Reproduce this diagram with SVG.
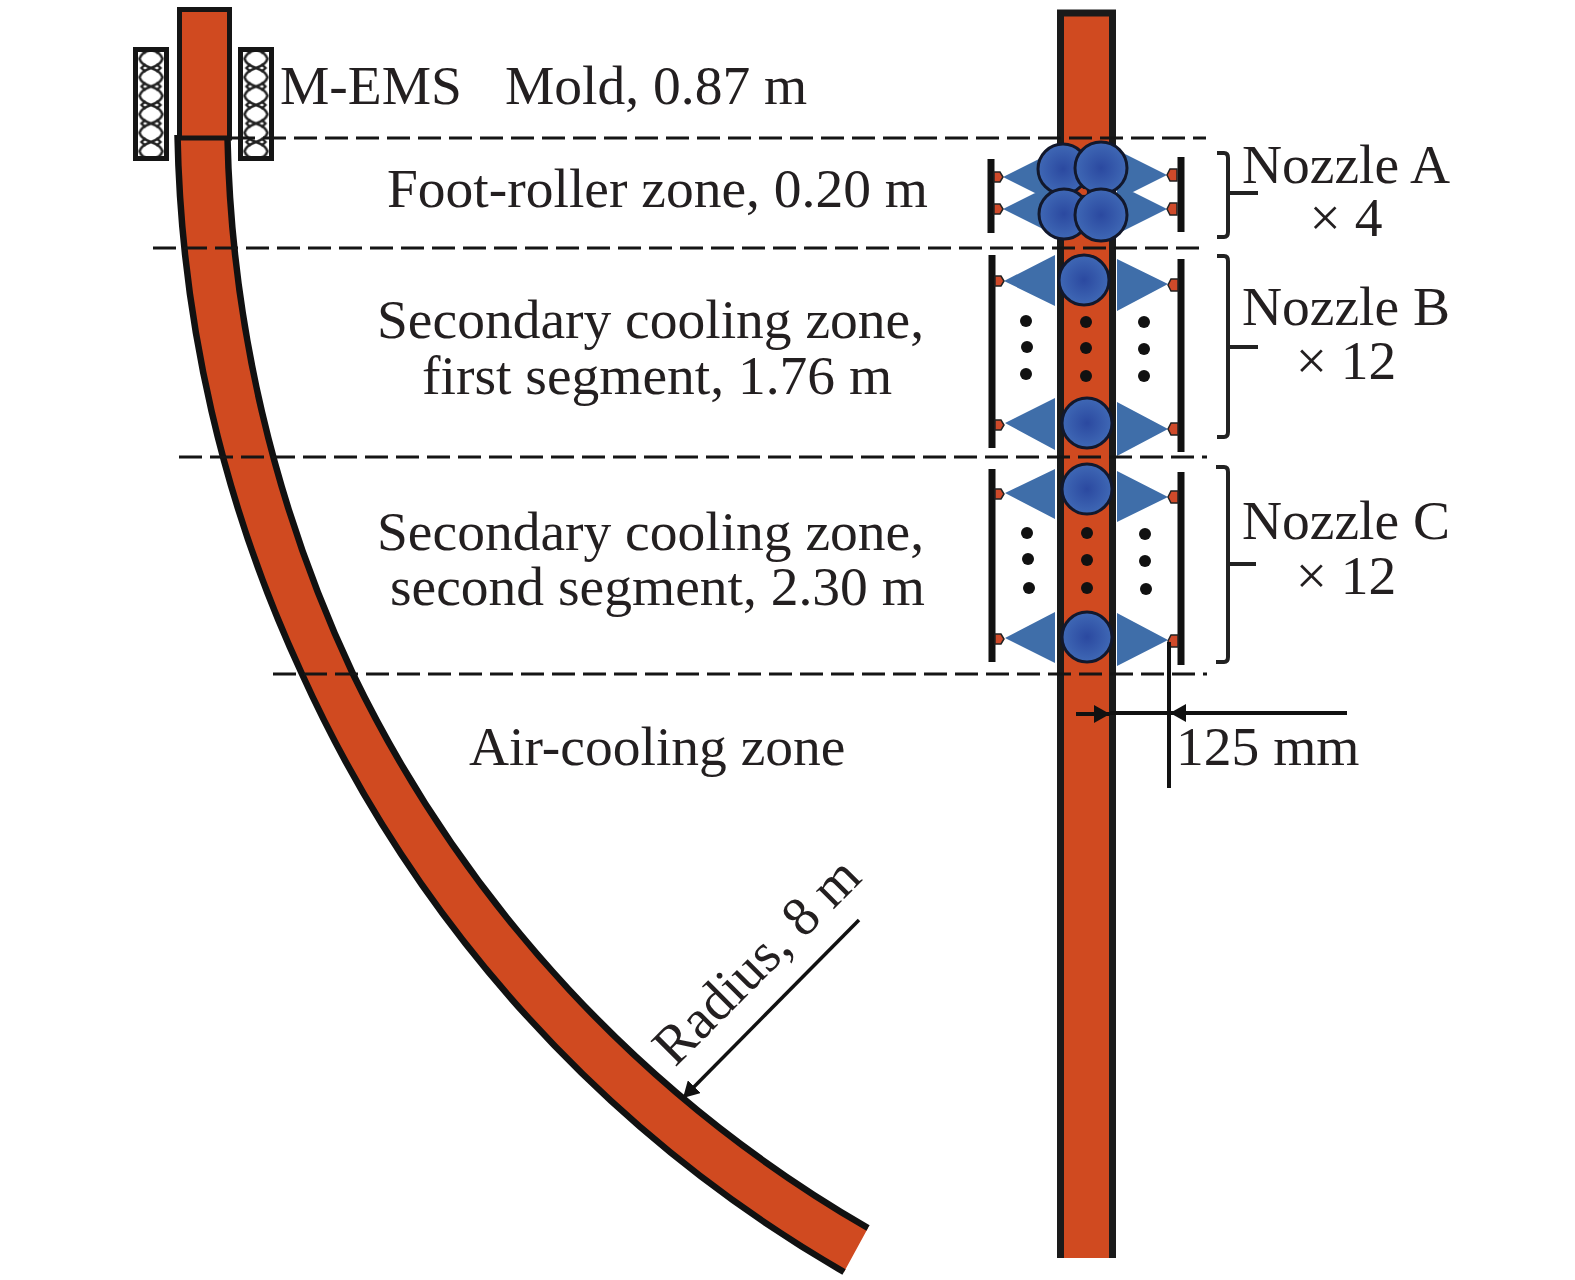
<svg xmlns="http://www.w3.org/2000/svg" width="1575" height="1280" viewBox="0 0 1575 1280">
<style>
text{font-family:"Liberation Serif","Times New Roman",serif;font-size:55.500px;fill:#231f20}
.m{text-anchor:middle}
.e{fill:none;stroke:#111;stroke-width:6.500}
.d{fill:none;stroke:#151515;stroke-width:3;stroke-dasharray:23 8}
.w{fill:none;stroke:#111;stroke-width:7}
.b{fill:none;stroke:#222;stroke-width:4}
.t{fill:#3f6ea9}
.r{fill:url(#rg);stroke:#12182c;stroke-width:3}
.n{fill:#cf4a2a;stroke:#222;stroke-width:1.500}
.k{fill:#111}
.a{fill:none;stroke:#111;stroke-width:4}
.l{fill:none;stroke:#222;stroke-width:2.400}
</style>
<defs>
<radialGradient id="rg"><stop offset="0" stop-color="#2b49a0"/><stop offset="1" stop-color="#3f68b5"/></radialGradient>
<pattern id="lat" width="31" height="18.500" patternUnits="userSpaceOnUse" x="135.500" y="49.500">
<path class="l" d="M15.500 0Q6 3 4 9.250Q6 15.500 15.500 18.500Q25 15.500 27 9.250Q25 3 15.500 0Z"/>
<path class="l" d="M4 -2L10 4M27 -2L21 4M4 20.500L10 14.500M27 20.500L21 14.500"/>
</pattern>
<pattern id="lat2" width="31" height="18.500" patternUnits="userSpaceOnUse" x="240.500" y="49.500">
<path class="l" d="M15.500 0Q6 3 4 9.250Q6 15.500 15.500 18.500Q25 15.500 27 9.250Q25 3 15.500 0Z"/>
<path class="l" d="M4 -2L10 4M27 -2L21 4M4 20.500L10 14.500M27 20.500L21 14.500"/>
</pattern>
<marker id="ah" markerWidth="18" markerHeight="18" refX="16" refY="9" orient="auto" markerUnits="userSpaceOnUse"><path d="M0 0L16 9L0 18Z" fill="#111"/></marker>
</defs>
<g id="curved-strand">
<path d="M177.500 138L227.500 138A1325 1325 0 0 0 353 674A1290 1290 0 0 0 868 1228L844 1272A1320 1320 0 0 1 302 674A1335 1335 0 0 1 177.500 138Z" fill="#d04a20"/>
<path class="e" d="M227.500 138A1325 1325 0 0 0 353 674A1290 1290 0 0 0 868 1228"/>
<path class="e" d="M177.500 135A1335 1335 0 0 0 302 674A1320 1320 0 0 0 844 1272"/>
<rect x="179.500" y="9.500" width="50" height="128.500" fill="#d04a20" stroke="#151515" stroke-width="5"/>
</g>
<g id="m-ems-left"><rect x="135.500" y="49.500" width="31" height="109" fill="url(#lat)" stroke="#151515" stroke-width="5"/></g>
<g id="m-ems-right"><rect x="240.500" y="49.500" width="31" height="109" fill="url(#lat2)" stroke="#151515" stroke-width="5"/></g>
<g id="straight-strand">
<path d="M1060.500 1258V13H1112.500V1258" fill="#d04a20" stroke="#1a1a1a" stroke-width="7"/>
</g>
<g id="nozzle-a">
<path class="t" d="M1003 177L1055 151V203ZM1003 209L1055 183V235ZM1167 175L1117 150V200ZM1167 209L1117 184V234Z"/>
<path class="w" d="M991 159V233M1181 157V232"/>
<path class="n" d="M994 172H1000L1003 177L1000 182H994ZM994 204H1000L1003 209L1000 214H994Z"/>
<path class="n" d="M1177 169H1170L1167 175L1170 181H1177ZM1177 203H1170L1167 209L1170 215H1177Z"/>
<circle class="r" cx="1063" cy="169" r="25"/><circle class="r" cx="1101" cy="168" r="26"/>
<circle class="r" cx="1064" cy="214" r="25"/><circle class="r" cx="1101" cy="215" r="26"/>
<circle cx="1084" cy="192" r="3" fill="#d04a20"/>
<path class="b" d="M1217 153H1224Q1228 153 1228 158V232Q1228 237 1224 237H1217M1228 193H1258"/>
</g>
<g id="nozzle-b">
<path class="t" d="M1004 281L1055 255V306ZM1168 284L1117 259V311ZM1005 423L1055 398V450ZM1168 429L1117 402V456Z"/>
<path class="w" d="M992 255V448M1181 259V452"/>
<path class="n" d="M995 276H1001L1004 281L1001 286H995ZM995 420H1001L1004 425L1001 430H995Z"/>
<path class="n" d="M1178 279H1171L1168 285L1171 291H1178ZM1178 423H1171L1168 429L1171 435H1178Z"/>
<circle class="r" cx="1084" cy="280" r="25"/><circle class="r" cx="1087" cy="423" r="25"/>
<g class="k"><circle cx="1026" cy="321" r="6"/><circle cx="1027" cy="347" r="6"/><circle cx="1026" cy="374" r="6"/><circle cx="1086" cy="322" r="6"/><circle cx="1086" cy="348" r="6"/><circle cx="1086" cy="376" r="6"/><circle cx="1144" cy="322" r="6"/><circle cx="1144" cy="349" r="6"/><circle cx="1144" cy="376" r="6"/></g>
<path class="b" d="M1217 256H1224Q1228 256 1228 261V432Q1228 437 1224 437H1217M1228 347H1258"/>
</g>
<g id="nozzle-c">
<path class="t" d="M1005 493L1055 469V519ZM1168 497L1117 471V522ZM1005 638L1055 612V663ZM1168 640L1117 613V666Z"/>
<path class="w" d="M992 469V662M1181 472V665"/>
<path class="n" d="M995 489H1001L1004 494L1001 499H995ZM995 634H1001L1004 639L1001 644H995Z"/>
<path class="n" d="M1178 491H1171L1168 497L1171 503H1178ZM1178 635H1171L1168 641L1171 647H1178Z"/>
<circle class="r" cx="1087" cy="489" r="25"/><circle class="r" cx="1087" cy="637" r="25"/>
<g class="k"><circle cx="1027" cy="533" r="6"/><circle cx="1028" cy="559" r="6"/><circle cx="1029" cy="588" r="6"/><circle cx="1087" cy="533" r="6"/><circle cx="1087" cy="560" r="6"/><circle cx="1087" cy="588" r="6"/><circle cx="1145" cy="534" r="6"/><circle cx="1145" cy="561" r="6"/><circle cx="1146" cy="589" r="6"/></g>
<path class="b" d="M1216 467H1224Q1228 467 1228 472V657Q1228 662 1224 662H1216M1228 564H1256"/>
</g>
<g id="connectors">
<path class="d" d="M232 138H1206M153 248H1207M179 457H1207M273 674H1207"/>
<path d="M1169 642V788" class="a"/>
<path d="M1076 714H1110" class="a" marker-end="url(#ah)"/>
<path d="M1347 713H1110" class="a"/>
<path d="M1186 713H1170" class="a" marker-end="url(#ah)"/>
<path d="M859 920L683 1098" fill="none" stroke="#111" stroke-width="3.500" marker-end="url(#ah)"/>
</g>
<g id="labels">
<text x="280" y="104">M-EMS</text>
<text x="505" y="104">Mold, 0.87 m</text>
<text x="387" y="207">Foot-roller zone, 0.20 m</text>
<text x="377" y="338">Secondary cooling zone,</text>
<text x="422" y="394">first segment, 1.76 m</text>
<text x="377" y="550">Secondary cooling zone,</text>
<text x="390" y="605">second segment, 2.30 m</text>
<text x="469" y="765">Air-cooling zone</text>
<text x="1242" y="183">Nozzle A</text>
<text x="1346" y="236" class="m">× 4</text>
<text x="1242" y="325">Nozzle B</text>
<text x="1346" y="379" class="m">× 12</text>
<text x="1242" y="539">Nozzle C</text>
<text x="1346" y="594" class="m">× 12</text>
<text x="1176" y="765">125 mm</text>
<text transform="translate(675 1068) rotate(-45)">Radius, 8 m</text>
</g>
</svg>
